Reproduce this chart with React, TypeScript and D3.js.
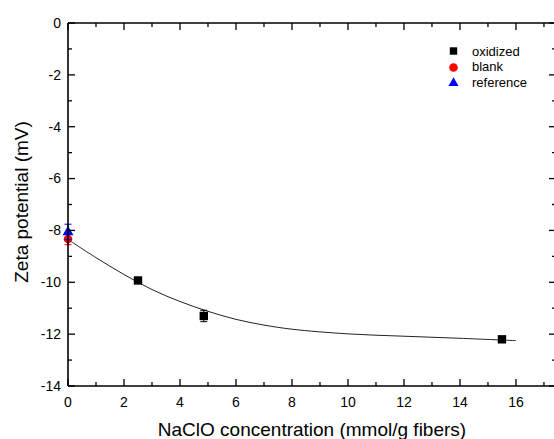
import React from "react";
import * as d3 from "d3";

const oxidizedX = [2.5, 4.85, 15.5];
const oxidizedY = [-9.93, -11.3, -12.2];
const oxidizedErr = [0.08, 0.22, 0.1];

const blankX = [0];
const blankY = [-8.33];
const blankErr = [0.22];

const referenceX = [0];
const referenceY = [-8.06];
const referenceErr = [0.3];

const fitX = [0.1, 1, 2, 3, 4, 5, 6, 7, 8, 10, 12, 14, 16];
const fitY = [-8.42, -9.05, -9.7, -10.28, -10.74, -11.12, -11.43, -11.65, -11.81, -11.99, -12.08, -12.16, -12.25];

const xMajor = [0, 2, 4, 6, 8, 10, 12, 14, 16];
const xMinor = [1, 3, 5, 7, 9, 11, 13, 15, 17];
const yMajor = [0, -2, -4, -6, -8, -10, -12, -14];
const yMinor = [-1, -3, -5, -7, -9, -11, -13];

const legendLabels = ["oxidized", "blank", "reference"];

const W = 554;
const H = 439;
const L = 68;
const R = 556;
const T = 23;
const B = 386;

export default function App() {
  const x = d3.scaleLinear().domain([0, 17.43]).range([L, R]);
  const y = d3.scaleLinear().domain([-14, 0]).range([B, T]);
  const font = "Arial, 'Liberation Sans', sans-serif";

  const line = d3
    .line<number>()
    .x((_, i) => x(fitX[i]))
    .y((_, i) => y(fitY[i]))
    .curve(d3.curveCatmullRom.alpha(0.5));

  const fitPath = line(fitY) || "";
  const tri = d3.symbol().type(d3.symbolTriangle).size(52)() || "";
  const triLeg = d3.symbol().type(d3.symbolTriangle).size(44)() || "";

  const errBar = (cx: number, cy: number, e: number, color: string, key: string) => {
    const px = x(cx);
    const y1 = y(cy + e);
    const y2 = y(cy - e);
    return (
      <g key={key} stroke={color} strokeWidth={1}>
        <line x1={px} x2={px} y1={y1} y2={y2} />
        <line x1={px - 3.5} x2={px + 3.5} y1={y1} y2={y1} />
        <line x1={px - 3.5} x2={px + 3.5} y1={y2} y2={y2} />
      </g>
    );
  };

  return (
    <svg
      width={W}
      height={H}
      style={{ position: "absolute", left: 0, top: 0, display: "block", background: "#ffffff" }}
    >
      <rect x={0} y={0} width={W} height={H} fill="#fff" />
      {/* fit curve */}
      <path d={fitPath} fill="none" stroke="#222" strokeWidth={1} />

      {/* oxidized */}
      {oxidizedX.map((v, i) => errBar(v, oxidizedY[i], oxidizedErr[i], "#000", "oe" + i))}
      {oxidizedX.map((v, i) => (
        <rect key={"o" + i} x={x(v) - 4.2} y={y(oxidizedY[i]) - 4.2} width={8.4} height={8.4} fill="#000" />
      ))}

      {/* blank */}
      {blankX.map((v, i) => errBar(v, blankY[i], blankErr[i], "#ff0000", "be" + i))}
      {blankX.map((v, i) => (
        <circle key={"b" + i} cx={x(v)} cy={y(blankY[i])} r={4.3} fill="#ff0000" />
      ))}

      {/* reference */}
      {referenceX.map((v, i) => errBar(v, referenceY[i], referenceErr[i], "#0000ff", "re" + i))}
      {referenceX.map((v, i) => (
        <path key={"r" + i} d={tri} transform={`translate(${x(v)},${y(referenceY[i])})`} fill="#0000ff" />
      ))}

      {/* axes frame */}
      <g stroke="#000" strokeWidth={1.6} fill="none">
        <line x1={L} x2={R} y1={B} y2={B} />
        <line x1={L} x2={R} y1={T} y2={T} />
        <line x1={L} x2={L} y1={T} y2={B} />
        <line x1={R} x2={R} y1={T} y2={B} />
      </g>
      <g stroke="#000" strokeWidth={1.3}>
        {xMajor.map((v) => (
          <g key={"xm" + v}>
            <line x1={x(v)} x2={x(v)} y1={B} y2={B - 7} />
            <line x1={x(v)} x2={x(v)} y1={T} y2={T + 7} />
          </g>
        ))}
        {xMinor.map((v) => (
          <g key={"xn" + v}>
            <line x1={x(v)} x2={x(v)} y1={B} y2={B - 4} />
            <line x1={x(v)} x2={x(v)} y1={T} y2={T + 4} />
          </g>
        ))}
        {yMajor.map((v) => (
          <g key={"ym" + v}>
            <line x1={L} x2={L + 7} y1={y(v)} y2={y(v)} />
            <line x1={R} x2={R - 7} y1={y(v)} y2={y(v)} />
          </g>
        ))}
        {yMinor.map((v) => (
          <g key={"yn" + v}>
            <line x1={L} x2={L + 4} y1={y(v)} y2={y(v)} />
            <line x1={R} x2={R - 4} y1={y(v)} y2={y(v)} />
          </g>
        ))}
      </g>

      {/* tick labels */}
      <g fontFamily={font} fontSize={14} fill="#000">
        {xMajor.map((v) => (
          <text key={"xl" + v} x={x(v)} y={B + 20.5} textAnchor="middle">
            {String(v)}
          </text>
        ))}
        {yMajor.map((v) => (
          <text key={"yl" + v} x={L - 7} y={y(v)} dy="0.35em" textAnchor="end">
            {String(v)}
          </text>
        ))}
      </g>

      {/* axis titles */}
      <text
        x={(L + R) / 2}
        y={436}
        textAnchor="middle"
        fontFamily={font}
        fontSize={19}
        fill="#000"
      >
        NaClO concentration (mmol/g fibers)
      </text>
      <text
        transform={`translate(28,${202}) rotate(-90)`}
        textAnchor="middle"
        fontFamily={font}
        fontSize={19}
        fill="#000"
      >
        Zeta potential (mV)
      </text>

      {/* legend */}
      <g fontFamily={font} fontSize={13} fill="#000">
        <rect x={453.5 - 3.7} y={51 - 3.7} width={7.4} height={7.4} fill="#000" />
        <circle cx={453.5} cy={67.5} r={4.3} fill="#ff0000" />
        <path d={triLeg} transform={`translate(453.5,${83})`} fill="#0000ff" />
        {legendLabels.map((t, i) => (
          <text key={t} x={472} y={51 + i * 15.8} dy="0.35em">
            {t}
          </text>
        ))}
      </g>
    </svg>
  );
}
